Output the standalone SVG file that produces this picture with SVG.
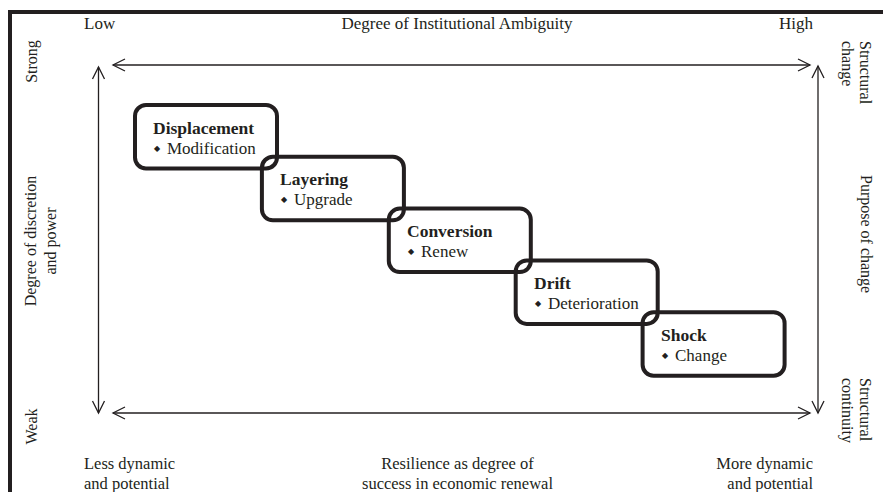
<svg xmlns="http://www.w3.org/2000/svg" width="883" height="492" viewBox="0 0 883 492">
<style>
text{font-family:"Liberation Serif","Times New Roman",serif;fill:#231f20}
.h{font-size:17px}
.f{font-size:16.5px}
.v{font-size:16px}
.t{font-size:17.5px;font-weight:bold}
.b{font-size:17px}
.d{font-size:8px;font-family:"DejaVu Sans",sans-serif}
.box{fill:none;stroke:#231f20;stroke-width:4}
.ax{stroke:#231f20;stroke-width:1.3;fill:none}
</style>
<defs>
<marker id="ah" markerUnits="userSpaceOnUse" viewBox="-14 -8 16 16" refX="0" refY="0" markerWidth="16" markerHeight="16" orient="auto-start-reverse">
<path d="M-12,-6 L0,0 L-12,6" fill="none" stroke="#231f20" stroke-width="1.3"/>
</marker>
</defs>
<rect width="883" height="492" fill="#fff"/>
<g id="frame">
<path d="M10,492 V12 H883" fill="none" stroke="#231f20" stroke-width="4"/>
</g>
<g id="connectors">
<line class="ax" x1="113" y1="65" x2="810" y2="65" marker-start="url(#ah)" marker-end="url(#ah)"/>
<line class="ax" x1="113" y1="413" x2="810" y2="413" marker-start="url(#ah)" marker-end="url(#ah)"/>
<line class="ax" x1="98.5" y1="67" x2="98.5" y2="413" marker-start="url(#ah)" marker-end="url(#ah)"/>
<line class="ax" x1="818" y1="66" x2="818" y2="413" marker-start="url(#ah)" marker-end="url(#ah)"/>
</g>
<g id="labels">
<text class="h" x="84" y="29">Low</text>
<text class="h" x="457" y="29" text-anchor="middle">Degree of Institutional Ambiguity</text>
<text class="h" x="813" y="29" text-anchor="end">High</text>
<text class="v" transform="translate(37,61.5) rotate(-90)" text-anchor="middle">Strong</text>
<text class="v" transform="translate(36,241) rotate(-90)" text-anchor="middle">Degree of discretion</text>
<text class="v" transform="translate(56,241) rotate(-90)" text-anchor="middle">and power</text>
<text class="v" transform="translate(37,426.5) rotate(-90)" text-anchor="middle">Weak</text>
<text class="v" transform="translate(860,41) rotate(90)">Structural</text>
<text class="v" transform="translate(842,41) rotate(90)">change</text>
<text class="v" transform="translate(861,175) rotate(90)">Purpose of change</text>
<text class="v" transform="translate(860,378) rotate(90)">Structural</text>
<text class="v" transform="translate(842,378) rotate(90)">continuity</text>
<text class="f" x="84" y="469">Less dynamic</text>
<text class="f" x="84" y="488.5">and potential</text>
<text class="f" x="457.5" y="469" text-anchor="middle">Resilience as degree of</text>
<text class="f" x="457.5" y="488.5" text-anchor="middle">success in economic renewal</text>
<text class="f" x="813" y="469" text-anchor="end">More dynamic</text>
<text class="f" x="813" y="488.5" text-anchor="end">and potential</text>
</g>
<g id="displacement">
<rect class="box" x="135" y="105" width="142" height="63.5" rx="11"/>
<text class="t" x="153" y="133.5">Displacement</text>
<text class="d" x="154" y="150.5">◆</text>
<text class="b" x="167" y="153.5">Modification</text>
</g>
<g id="layering">
<rect class="box" x="261.9" y="156.8" width="142" height="63.5" rx="11"/>
<text class="t" x="280" y="185.3">Layering</text>
<text class="d" x="281" y="202.3">◆</text>
<text class="b" x="294" y="205.3">Upgrade</text>
</g>
<g id="conversion">
<rect class="box" x="388.8" y="208.6" width="142" height="63.5" rx="11"/>
<text class="t" x="407" y="237.1">Conversion</text>
<text class="d" x="408" y="254.1">◆</text>
<text class="b" x="421" y="257.1">Renew</text>
</g>
<g id="drift">
<rect class="box" x="515.7" y="260.4" width="142" height="63.5" rx="11"/>
<text class="t" x="534" y="288.9">Drift</text>
<text class="d" x="535" y="305.9">◆</text>
<text class="b" x="548" y="308.9">Deterioration</text>
</g>
<g id="shock">
<rect class="box" x="642.6" y="312.2" width="142" height="63.5" rx="11"/>
<text class="t" x="661" y="340.7">Shock</text>
<text class="d" x="662" y="357.7">◆</text>
<text class="b" x="675" y="360.7">Change</text>
</g>
</svg>
